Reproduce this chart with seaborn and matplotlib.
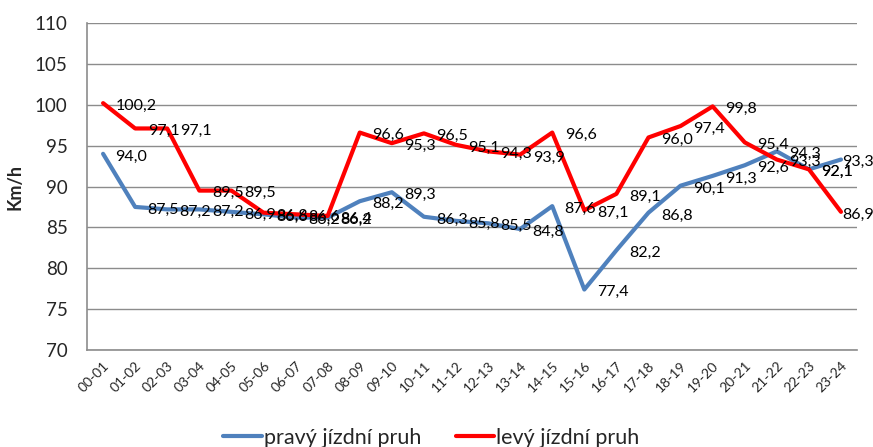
import pandas as pd
import numpy as np
import seaborn as sns
import matplotlib.pyplot as plt

# hourly intervals
hours = ['00-01', '01-02', '02-03', '03-04', '04-05', '05-06', '06-07', '07-08',
         '08-09', '09-10', '10-11', '11-12', '12-13', '13-14', '14-15', '15-16',
         '16-17', '17-18', '18-19', '19-20', '20-21', '21-22', '22-23', '23-24']

# average speed, right lane / left lane
pravy = [94.0, 87.5, 87.2, 87.2, 86.9, 86.6, 86.2, 86.2, 88.2, 89.3, 86.3, 85.8,
         85.5, 84.8, 87.6, 77.4, 82.2, 86.8, 90.1, 91.3, 92.6, 94.3, 92.1, 93.3]
levy = [100.2, 97.1, 97.1, 89.5, 89.5, 86.8, 86.6, 86.4, 96.6, 95.3, 96.5, 95.1,
        94.3, 93.9, 96.6, 87.1, 89.1, 96.0, 97.4, 99.8, 95.4, 93.3, 92.1, 86.9]

series_names = ['pravý jízdní pruh', 'levý jízdní pruh']
colors = ['#4F81BD', '#FF0000']

df = pd.DataFrame({
    'hodina': list(range(len(hours))) * 2,
    'rychlost': pravy + levy,
    'pruh': [series_names[0]] * len(hours) + [series_names[1]] * len(hours),
})

sns.set_style("white")
plt.rcParams['font.family'] = ['Lato', 'DejaVu Sans']

fig = plt.figure(figsize=(8.73, 4.47), dpi=100)
ax = fig.add_axes([0.0997, 0.217, 0.882, 0.7315])

sns.lineplot(data=df, x='hodina', y='rychlost', hue='pruh', palette=colors,
             linewidth=3, ax=ax, legend=False)

# data labels to the right of each point (last ones pulled in, like Excel does)
for vals in (pravy, levy):
    for i, v in enumerate(vals):
        dx = 9 if i < len(vals) - 1 else 1
        ax.annotate(f'{v:.1f}'.replace('.', ','), (i, v), xytext=(dx, -2),
                    textcoords='offset points', va='center', ha='left',
                    fontsize=11.5, color='black')

ax.set_xlim(-0.5, len(hours) - 0.5)
ax.set_ylim(70, 110)
ax.set_yticks(np.arange(70, 111, 5))
ax.set_xticks(range(len(hours)))
ax.set_xticklabels(hours, rotation=45, ha='right', rotation_mode='anchor', fontsize=10)
ax.tick_params(axis='y', labelsize=13.5, length=0, pad=14)
ax.tick_params(axis='x', length=0, pad=7)
ax.grid(axis='y', color='#8C8C8C', linewidth=1)
ax.set_axisbelow(True)
for s in ['top', 'right']:
    ax.spines[s].set_visible(False)
for s in ['left', 'bottom']:
    ax.spines[s].set_color('#8C8C8C')
    ax.spines[s].set_linewidth(1.2)
ax.set_xlabel('')
ax.set_ylabel('Km/h', fontsize=13, fontweight='bold', labelpad=8)

handles = [plt.Line2D([0], [0], color=c, linewidth=3) for c in colors]
fig.legend(handles, series_names, loc='lower center', ncol=2, frameon=False,
           fontsize=15.5, bbox_to_anchor=(0.494, -0.045), handlelength=1.8,
           handletextpad=0.1, columnspacing=1.6)

fig.savefig('out.png', dpi=100)
